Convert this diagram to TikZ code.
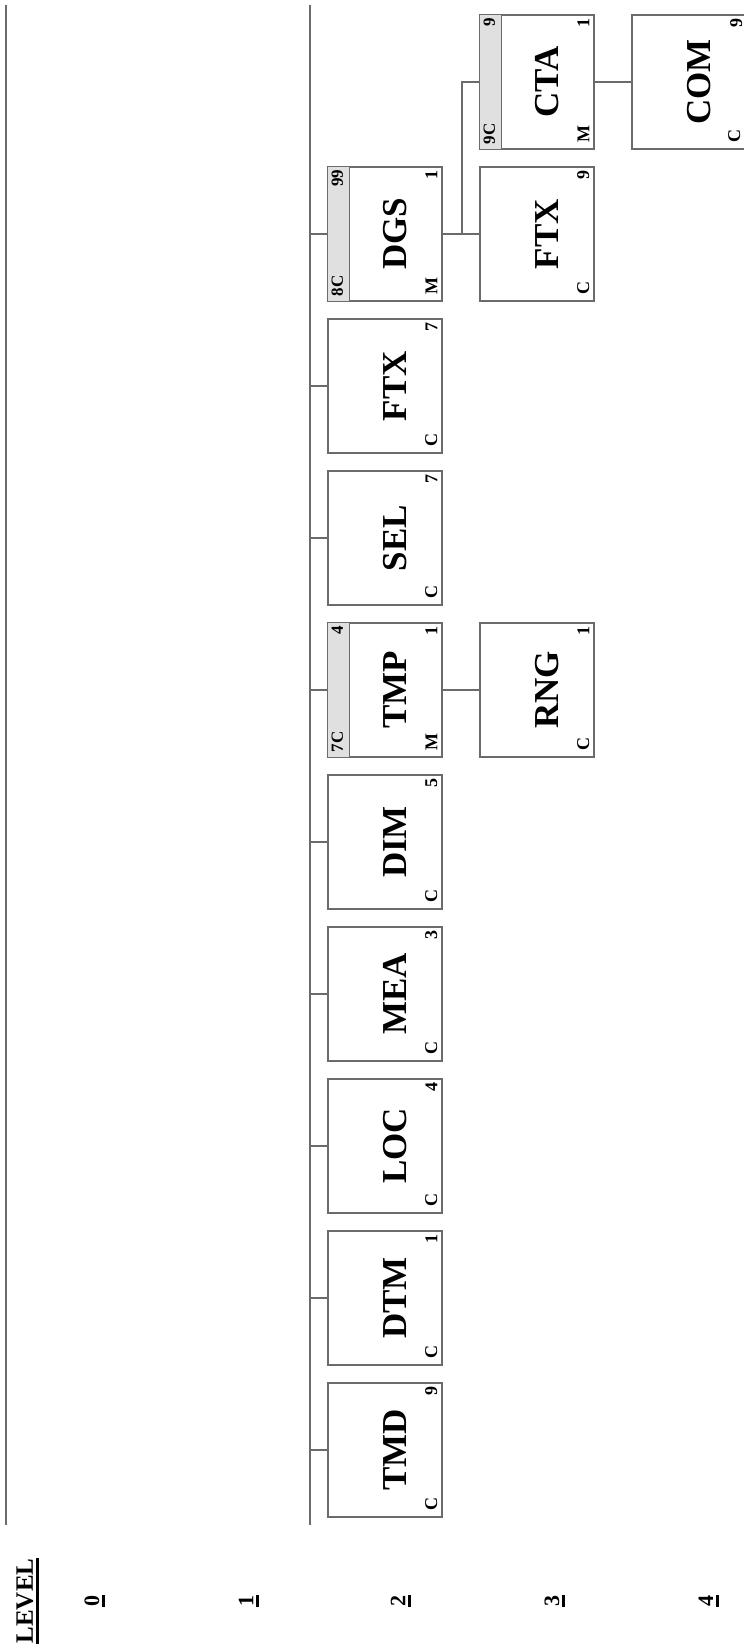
\documentclass[tikz,border=0pt]{standalone}
\usepackage{fontspec}
\setmainfont{Liberation Serif}
\usepackage{tikz}
\usetikzlibrary{positioning}
\definecolor{linegray}{gray}{0.42}
\definecolor{bandgray}{gray}{0.88}

\begin{document}
\begin{tikzpicture}[x=1pt,y=-1pt,
    modbox/.style={draw=linegray,line width=1.2pt,fill=white,minimum width=114pt,minimum height=134pt,inner sep=0pt},
    biglbl/.style={rotate=90,inner sep=0pt,font=\fontsize{35}{35}\selectfont\bfseries},
    smalllbl/.style={rotate=90,inner sep=0pt,font=\fontsize{18}{18}\selectfont\bfseries},
    bandlbl/.style={rotate=90,inner sep=0pt,font=\fontsize{17}{17}\selectfont\bfseries},
    levellbl/.style={rotate=90,inner sep=0pt,font=\fontsize{22}{22}\selectfont\bfseries},
    conn/.style={draw=linegray,line width=1.2pt}]
  \useasboundingbox (0,0) rectangle (744,1652);

  % level lines
  \coordinate (lvlzerotop) at (6,5);
  \coordinate (lvlzerobot) at (6,1525);
  \coordinate (lvlonetop) at (310,5);
  \coordinate (lvlonebot) at (310,1525);
  \draw[conn] (lvlzerotop) -- (lvlzerobot);
  \draw[conn] (lvlonetop) -- (lvlonebot);

  % level 2 modules
  \node at(385,234)[modbox](dgs){};
  \fill[bandgray] (dgs.north west) rectangle ([xshift=22pt]dgs.south west);
  \draw[conn] ([xshift=22pt]dgs.north west) -- ([xshift=22pt]dgs.south west);
  \draw[conn] (dgs.north west) rectangle (dgs.south east);
  \node at([xshift=10pt]dgs.center)[biglbl](dgslbl){DGS};
  \node at([shift={(-5pt,7pt)}]dgs.south east)[smalllbl,anchor=south west](dgstype){M};
  \node at([shift={(-5pt,-4pt)}]dgs.north east)[smalllbl,anchor=south east](dgsnum){1};
  \node at([shift={(4pt,5pt)}]dgs.south west)[bandlbl,anchor=north west](dgscode){8C};
  \node at([shift={(4pt,-3pt)}]dgs.north west)[bandlbl,anchor=north east](dgscount){99};

  \node at(385,386)[modbox](ftxa){};
  \node at([xshift=10pt]ftxa.center)[biglbl](ftxalbl){FTX};
  \node at([shift={(-5pt,7pt)}]ftxa.south east)[smalllbl,anchor=south west](ftxatype){C};
  \node at([shift={(-5pt,-4pt)}]ftxa.north east)[smalllbl,anchor=south east](ftxanum){7};

  \node at(385,538)[modbox](sel){};
  \node at([xshift=10pt]sel.center)[biglbl](sellbl){SEL};
  \node at([shift={(-5pt,7pt)}]sel.south east)[smalllbl,anchor=south west](seltype){C};
  \node at([shift={(-5pt,-4pt)}]sel.north east)[smalllbl,anchor=south east](selnum){7};

  \node at(385,690)[modbox](tmp){};
  \fill[bandgray] (tmp.north west) rectangle ([xshift=22pt]tmp.south west);
  \draw[conn] ([xshift=22pt]tmp.north west) -- ([xshift=22pt]tmp.south west);
  \draw[conn] (tmp.north west) rectangle (tmp.south east);
  \node at([xshift=10pt]tmp.center)[biglbl](tmplbl){TMP};
  \node at([shift={(-5pt,7pt)}]tmp.south east)[smalllbl,anchor=south west](tmptype){M};
  \node at([shift={(-5pt,-4pt)}]tmp.north east)[smalllbl,anchor=south east](tmpnum){1};
  \node at([shift={(4pt,5pt)}]tmp.south west)[bandlbl,anchor=north west](tmpcode){7C};
  \node at([shift={(4pt,-3pt)}]tmp.north west)[bandlbl,anchor=north east](tmpcount){4};

  \node at(385,842)[modbox](dim){};
  \node at([xshift=10pt]dim.center)[biglbl](dimlbl){DIM};
  \node at([shift={(-5pt,7pt)}]dim.south east)[smalllbl,anchor=south west](dimtype){C};
  \node at([shift={(-5pt,-4pt)}]dim.north east)[smalllbl,anchor=south east](dimnum){5};

  \node at(385,994)[modbox](mea){};
  \node at([xshift=10pt]mea.center)[biglbl](mealbl){MEA};
  \node at([shift={(-5pt,7pt)}]mea.south east)[smalllbl,anchor=south west](meatype){C};
  \node at([shift={(-5pt,-4pt)}]mea.north east)[smalllbl,anchor=south east](meanum){3};

  \node at(385,1146)[modbox](loc){};
  \node at([xshift=10pt]loc.center)[biglbl](loclbl){LOC};
  \node at([shift={(-5pt,7pt)}]loc.south east)[smalllbl,anchor=south west](loctype){C};
  \node at([shift={(-5pt,-4pt)}]loc.north east)[smalllbl,anchor=south east](locnum){4};

  \node at(385,1298)[modbox](dtm){};
  \node at([xshift=10pt]dtm.center)[biglbl](dtmlbl){DTM};
  \node at([shift={(-5pt,7pt)}]dtm.south east)[smalllbl,anchor=south west](dtmtype){C};
  \node at([shift={(-5pt,-4pt)}]dtm.north east)[smalllbl,anchor=south east](dtmnum){1};

  \node at(385,1450)[modbox](tmd){};
  \node at([xshift=10pt]tmd.center)[biglbl](tmdlbl){TMD};
  \node at([shift={(-5pt,7pt)}]tmd.south east)[smalllbl,anchor=south west](tmdtype){C};
  \node at([shift={(-5pt,-4pt)}]tmd.north east)[smalllbl,anchor=south east](tmdnum){9};

  % level 3 and 4 modules
  \node at(537,82)[modbox](cta){};
  \fill[bandgray] (cta.north west) rectangle ([xshift=22pt]cta.south west);
  \draw[conn] ([xshift=22pt]cta.north west) -- ([xshift=22pt]cta.south west);
  \draw[conn] (cta.north west) rectangle (cta.south east);
  \node at([xshift=10pt]cta.center)[biglbl](ctalbl){CTA};
  \node at([shift={(-5pt,7pt)}]cta.south east)[smalllbl,anchor=south west](ctatype){M};
  \node at([shift={(-5pt,-4pt)}]cta.north east)[smalllbl,anchor=south east](ctanum){1};
  \node at([shift={(4pt,5pt)}]cta.south west)[bandlbl,anchor=north west](ctacode){9C};
  \node at([shift={(4pt,-3pt)}]cta.north west)[bandlbl,anchor=north east](ctacount){9};

  \node at(537,234)[modbox](ftxb){};
  \node at([xshift=10pt]ftxb.center)[biglbl](ftxblbl){FTX};
  \node at([shift={(-5pt,7pt)}]ftxb.south east)[smalllbl,anchor=south west](ftxbtype){C};
  \node at([shift={(-5pt,-4pt)}]ftxb.north east)[smalllbl,anchor=south east](ftxbnum){9};

  \node at(537,690)[modbox](rng){};
  \node at([xshift=10pt]rng.center)[biglbl](rnglbl){RNG};
  \node at([shift={(-5pt,7pt)}]rng.south east)[smalllbl,anchor=south west](rngtype){C};
  \node at([shift={(-5pt,-4pt)}]rng.north east)[smalllbl,anchor=south east](rngnum){1};

  \node at(689,82)[modbox](com){};
  \node at([xshift=10pt]com.center)[biglbl](comlbl){COM};
  \node at([shift={(-6pt,7pt)}]com.south east)[smalllbl,anchor=south west](comtype){C};
  \node at([shift={(-4pt,-4pt)}]com.north east)[smalllbl,anchor=south east](comnum){9};

  % connectors
  \draw[conn] (dgs.west -| lvlonetop) -- (dgs.west);
  \draw[conn] (ftxa.west -| lvlonetop) -- (ftxa.west);
  \draw[conn] (sel.west -| lvlonetop) -- (sel.west);
  \draw[conn] (tmp.west -| lvlonetop) -- (tmp.west);
  \draw[conn] (dim.west -| lvlonetop) -- (dim.west);
  \draw[conn] (mea.west -| lvlonetop) -- (mea.west);
  \draw[conn] (loc.west -| lvlonetop) -- (loc.west);
  \draw[conn] (dtm.west -| lvlonetop) -- (dtm.west);
  \draw[conn] (tmd.west -| lvlonetop) -- (tmd.west);

  \coordinate (dgsfork) at (462,234);
  \draw[conn] (dgs.east) -- (ftxb.west);
  \draw[conn] (dgsfork) |- (cta.west);
  \draw[conn] (tmp.east) -- (rng.west);
  \draw[conn] (cta.east) -- (com.west);

  % level numbers
  \node at(25,1601)[rotate=90,inner sep=0pt,font=\fontsize{25}{25}\selectfont\bfseries](levelhead){LEVEL};
  \node at(92,1601)[levellbl](levelzero){0};
  \node at(246,1601)[levellbl](levelone){1};
  \node at(398,1601)[levellbl](leveltwo){2};
  \node at(552,1601)[levellbl](levelthree){3};
  \node at(706,1601)[levellbl](levelfour){4};
  \draw[line width=3pt] ([xshift=3.5pt]levelhead.south west) -- ([xshift=3.5pt]levelhead.south east);
  \draw[line width=3pt] ([xshift=4pt]levelzero.south west) -- ([xshift=4pt]levelzero.south east);
  \draw[line width=3pt] ([xshift=4pt]levelone.south west) -- ([xshift=4pt]levelone.south east);
  \draw[line width=3pt] ([xshift=4pt]leveltwo.south west) -- ([xshift=4pt]leveltwo.south east);
  \draw[line width=3pt] ([xshift=4pt]levelthree.south west) -- ([xshift=4pt]levelthree.south east);
  \draw[line width=3pt] ([xshift=4pt]levelfour.south west) -- ([xshift=4pt]levelfour.south east);
\end{tikzpicture}
\end{document}
